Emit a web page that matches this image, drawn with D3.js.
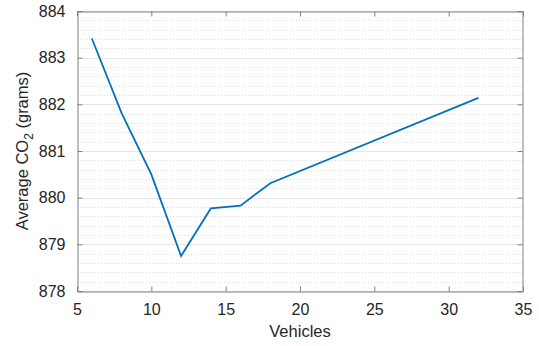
<!DOCTYPE html>
<html><head><meta charset="utf-8">
<script src="https://cdn.jsdelivr.net/npm/d3@7"></script>
<style>body{margin:0;background:#fff}svg{display:block}text{font-family:"Liberation Sans",Arial,sans-serif}</style>
</head><body><svg id="c" width="539" height="346"></svg>
<script>
const vehicles = [6, 8, 10, 12, 14, 16, 18, 32];
const co2 = [883.41, 881.81, 880.50, 878.75, 879.77, 879.83, 880.31, 882.14];
const xTicks = [5, 10, 15, 20, 25, 30, 35];
const yTicks = [878, 879, 880, 881, 882, 883, 884];

const svg = d3.select("#c");
const L = 77, R = 523, T = 11, B = 291;
const x = d3.scaleLinear().domain([5, 35]).range([L, R]);
const y = d3.scaleLinear().domain([878, 884]).range([B, T]);
const axisCol = "#808080", textCol = "#262626";

// minor grid
const minor = d3.range(878, 884.001, 0.2).filter(v => Math.abs(v - Math.round(v)) > 1e-6);
svg.append("g").selectAll("line").data(minor).join("line")
  .attr("x1", L).attr("x2", R).attr("y1", d => Math.round(y(d)) + 0.5).attr("y2", d => Math.round(y(d)) + 0.5)
  .attr("stroke", "#dcdcdc").attr("stroke-width", 1).attr("stroke-dasharray", "1,2");
// major grid
svg.append("g").selectAll("line").data(yTicks).join("line")
  .attr("x1", L).attr("x2", R).attr("y1", d => Math.round(y(d)) + 0.5).attr("y2", d => Math.round(y(d)) + 0.5)
  .attr("stroke", "#e6e6e6").attr("stroke-width", 1);

// line
svg.append("path").datum(vehicles.map((v, i) => [v, co2[i]]))
  .attr("d", d3.line().x(d => x(d[0])).y(d => y(d[1])))
  .attr("fill", "none").attr("stroke", "#0072BD").attr("stroke-width", 1.8);

// axes (inward ticks)
function styleAxis(g) {
  g.select(".domain").attr("stroke", axisCol);
  g.selectAll(".tick line").attr("stroke", axisCol);
  g.selectAll(".tick text").attr("fill", textCol).style("font-size", "16px");
}
const fmt = d3.format("d");
svg.append("g").attr("transform", `translate(0,${B + 0.5})`)
  .call(d3.axisBottom(x).tickValues(xTicks).tickFormat(fmt).tickSizeInner(-5).tickSizeOuter(0).tickPadding(12))
  .call(styleAxis);
svg.append("g").attr("transform", `translate(0,${T + 0.5})`)
  .call(d3.axisTop(x).tickValues(xTicks).tickSizeInner(-5).tickSizeOuter(0).tickFormat(""))
  .call(styleAxis);
svg.append("g").attr("transform", `translate(${L + 0.5},0)`)
  .call(d3.axisLeft(y).tickValues(yTicks).tickFormat(fmt).tickSizeInner(-5).tickSizeOuter(0).tickPadding(12))
  .call(styleAxis);
svg.append("g").attr("transform", `translate(${R - 0.5},0)`)
  .call(d3.axisRight(y).tickValues(yTicks).tickSizeInner(-5).tickSizeOuter(0).tickFormat(""))
  .call(styleAxis);

// labels
svg.append("text").attr("x", (L + R) / 2).attr("y", 337).attr("text-anchor", "middle")
  .attr("fill", textCol).style("font-size", "16.5px").text("Vehicles");
const yl = svg.append("text").attr("transform", `translate(28,${(T + B) / 2}) rotate(-90)`)
  .attr("text-anchor", "middle").attr("fill", textCol).style("font-size", "16.5px");
yl.append("tspan").text("Average CO");
yl.append("tspan").attr("dy", 5).style("font-size", "12px").text("2");
yl.append("tspan").attr("dy", -5).text(" (grams)");
</script></body></html>
